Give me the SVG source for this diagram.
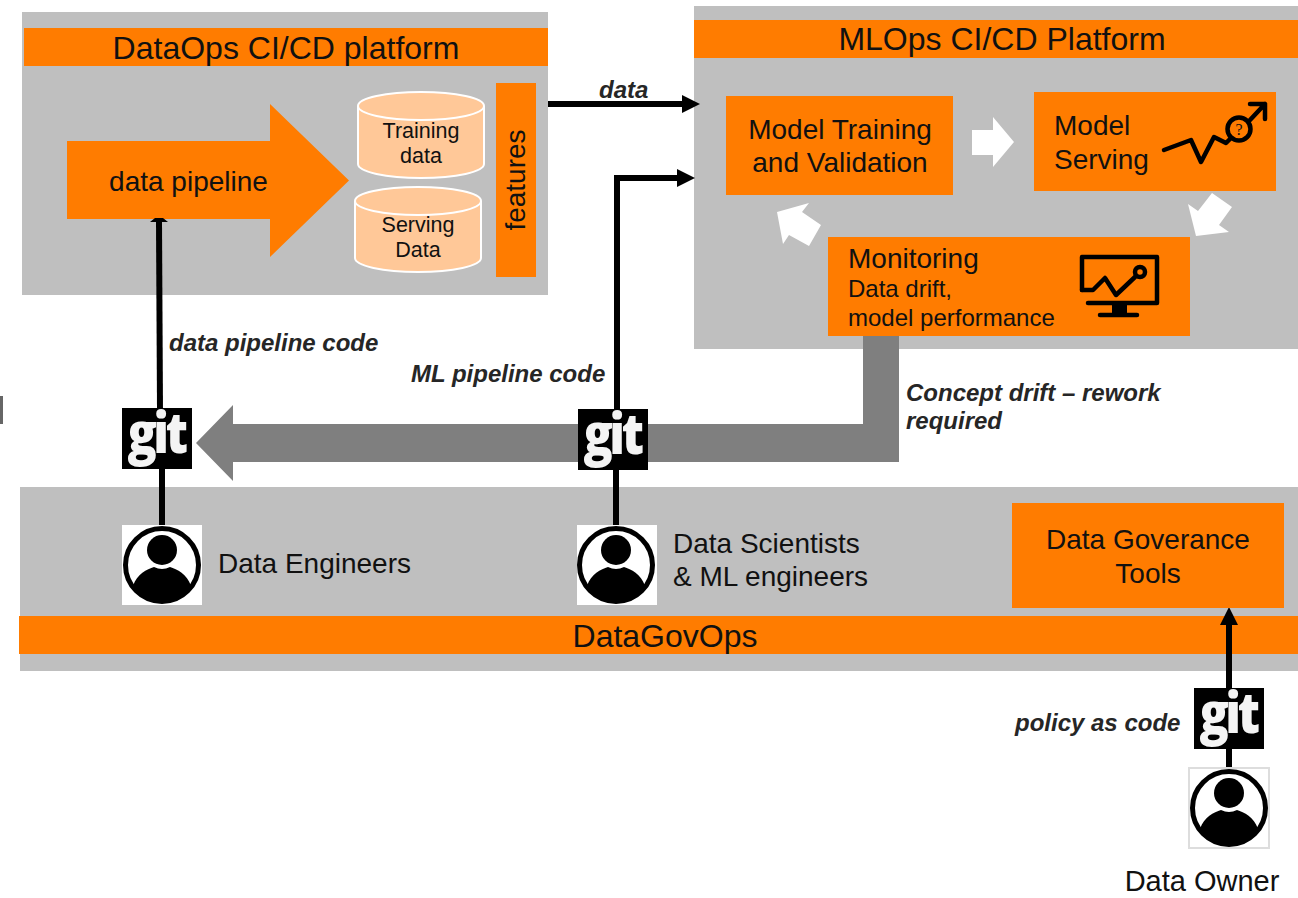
<svg xmlns="http://www.w3.org/2000/svg" width="1298" height="898" viewBox="0 0 1298 898">
<style>
text{font-family:"Liberation Sans",Arial,sans-serif;fill:#111}
.p{fill:#bfbfbf}.o{fill:#ff7c00}
.l{font-size:28px}.t{font-size:32px;text-anchor:middle}.m{font-size:28px;text-anchor:middle}
.s{font-size:21.500px;text-anchor:middle}
.b{font-size:24px;font-weight:bold;font-style:italic;fill:#262626}
.d{font-size:24px}
.c{fill:#ffc898;stroke:#fff;stroke-width:2}
.cn{stroke:#000;stroke-width:6;fill:none}
.w{fill:#fff}
.gt{font-family:"Open Sans",sans-serif;font-weight:800;font-size:57px;fill:#f4f4f4;text-anchor:middle;letter-spacing:-4px}
.ic{fill:none;stroke:#000;stroke-width:4.500;stroke-linejoin:round;stroke-linecap:round}
</style>
<defs>
<marker id="a" markerUnits="userSpaceOnUse" markerWidth="20" markerHeight="18" refX="4" refY="9" orient="auto"><path d="M0 0L18 9L0 18z" fill="#000"/></marker>
<g id="git"><rect x="-35" y="0" width="70" height="61" fill="#000"/><text class="gt" transform="translate(-1 45) scale(.85 1)">git</text></g>
<g id="user"><circle cx="0" cy="0" r="36.500" fill="#fff" stroke="#000" stroke-width="5"/><circle cx="0" cy="-15" r="15" fill="#000"/><path d="M-29 21C-25 9-15 4-8 2Q0 6 8 2C15 4 25 9 29 21A36 36 0 0 1-29 21z" fill="#000"/></g>
</defs>

<g id="dataops"><rect class="p" x="22" y="12" width="526" height="283"/><rect class="o" x="24" y="28" width="524" height="38"/><text class="t" x="286" y="59">DataOps CI/CD platform</text></g>
<g id="mlops"><rect class="p" x="694" y="6" width="604" height="343"/><rect class="o" x="694" y="20" width="604" height="38"/><text class="t" x="1002" y="50">MLOps CI/CD Platform</text></g>
<g id="datagovops"><rect class="p" x="20" y="487" width="1278" height="184"/><rect class="o" x="19" y="616" width="1279" height="38"/><text class="t" x="665" y="647">DataGovOps</text></g>

<g id="pipeline"><path class="o" d="M67 141H270V104L349 180.500L270 257V219H67z"/><text class="l" x="188.500" y="191" text-anchor="middle">data pipeline</text></g>
<g id="training"><path class="c" d="M358 106A63 14 0 0 1 484 106V164A63 14 0 0 1 358 164z"/><path class="c" d="M358 106A63 14 0 0 0 484 106" fill="none"/><text class="s" x="421" y="138">Training</text><text class="s" x="421" y="163">data</text></g>
<g id="serving"><path class="c" d="M355 201A63 14 0 0 1 481 201V258A63 14 0 0 1 355 258z"/><path class="c" d="M355 201A63 14 0 0 0 481 201" fill="none"/><text class="s" x="418" y="232">Serving</text><text class="s" x="418" y="257">Data</text></g>
<g id="features"><rect class="o" x="496" y="83" width="40" height="194"/><text class="l" transform="translate(525 180) rotate(-90)" text-anchor="middle">features</text></g>

<g id="training-node"><rect class="o" x="726" y="96" width="227" height="99"/><text class="m" x="840" y="139">Model Training</text><text class="m" x="840" y="172">and Validation</text></g>
<g id="serving-node"><rect class="o" x="1034" y="92" width="242" height="99"/><text class="l" x="1054" y="135">Model</text><text class="l" x="1054" y="169">Serving</text>
<path class="ic" d="M1164 150L1191 140L1201 162L1214 137L1226 143L1230 139M1250 120L1265 104M1250 104H1265V119"/><circle class="ic" cx="1239" cy="129" r="11.500"/><text x="1239" y="135" font-size="16" text-anchor="middle" style="font-family:'Liberation Serif',serif">?</text></g>
<g id="monitoring"><rect class="o" x="828" y="237" width="362" height="99"/><text class="l" x="848" y="268">Monitoring</text><text class="d" x="848" y="297">Data drift,</text><text class="d" x="848" y="326">model performance</text>
<path class="ic" d="M1082 290V257H1157V303H1088"/><path class="ic" d="M1082 290H1093L1105 278L1116 295L1135 277"/><circle class="ic" cx="1140" cy="272" r="5"/><path d="M1112 303H1127V315H1112z" fill="#000"/><path class="ic" d="M1100 315H1137"/></g>

<g id="connectors">
<path d="M863 336H899V462H233V481L196 443L233 405V424H863z" fill="#7f7f7f"/>
<path class="cn" d="M548 104H686" marker-end="url(#a)"/>
<path class="cn" d="M617 412V178H681" marker-end="url(#a)"/>
<path class="cn" d="M160 410L159 221"/><path d="M150 222L155 218H163L168 222z" fill="#000"/>
<path class="cn" d="M162 468V528"/>
<path class="cn" d="M616 468V526"/>
<path class="cn" d="M1229 690V621" marker-end="url(#a)"/>
<path class="cn" d="M1229 748V772"/>
<path class="w" d="M972 130H993V117L1014 142L993 167V155H972z"/>
<path class="w" d="M1212 193L1232 207L1219 225L1229 232L1196 236L1188 204L1198 211z"/>
<path class="w" d="M777 212L809 203L802 212L821 225L809 246L789 235L783 244z"/>
</g>

<g id="git1"><use href="#git" x="157" y="408"/></g>
<g id="git2"><use href="#git" x="613" y="409"/></g>
<g id="git3"><use href="#git" x="1229" y="688"/></g>

<g id="engineers"><rect class="w" x="122" y="525" width="80" height="80"/><use href="#user" x="162" y="565"/><text class="l" x="218" y="573">Data Engineers</text></g>
<g id="scientists"><rect class="w" x="577" y="525" width="80" height="80"/><use href="#user" x="616" y="565"/><text class="l" x="673" y="553">Data Scientists</text><text class="l" x="673" y="586">&amp; ML engineers</text></g>
<g id="owner"><rect x="1189" y="768" width="80" height="80" fill="#fff" stroke="#ddd" stroke-width="2"/><use href="#user" x="1229" y="808"/><text x="1202" y="891" font-size="29" text-anchor="middle">Data Owner</text></g>
<g id="gov"><rect class="o" x="1012" y="503" width="272" height="105"/><text class="m" x="1148" y="549">Data Goverance</text><text class="m" x="1148" y="583">Tools</text></g>

<g id="labels">
<text class="b" x="599" y="98">data</text>
<text class="b" x="169" y="351">data pipeline code</text>
<text class="b" x="411" y="382">ML pipeline code</text>
<text class="b" x="906" y="401">Concept drift – rework</text>
<text class="b" x="906" y="429">required</text>
<text class="b" x="1015" y="731">policy as code</text>
</g>
<rect x="0" y="396" width="3" height="28" fill="#666"/>
</svg>
